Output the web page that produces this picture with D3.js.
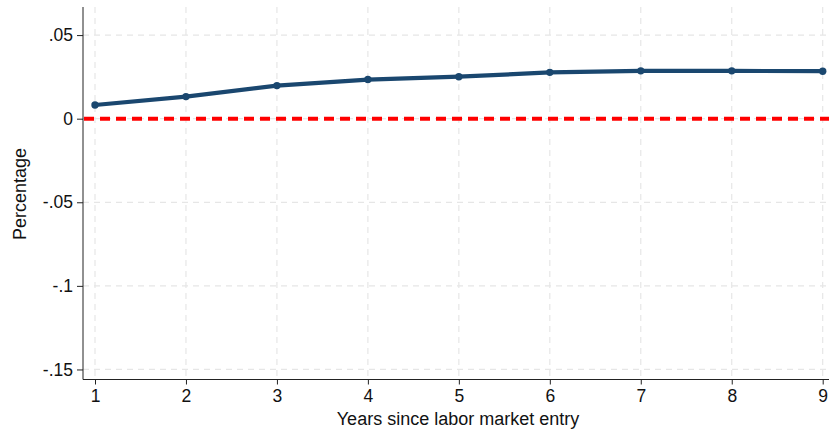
<!DOCTYPE html>
<html>
<head>
<meta charset="utf-8">
<script src="https://cdn.jsdelivr.net/npm/d3@7"></script>
<style>
  body { margin: 0; background: #fff; }
  svg { display: block; font-family: "Liberation Sans", Arial, sans-serif; }
</style>
</head>
<body>
<svg id="chart" width="829" height="431"></svg>
<script>
// Years since entry and estimated effect
const years = [1, 2, 3, 4, 5, 6, 7, 8, 9];
const effect = [0.0082, 0.0132, 0.0198, 0.0234, 0.0251, 0.0277, 0.0286, 0.0286, 0.0284];
const yTicks = [-0.15, -0.1, -0.05, 0, 0.05];
const yTickLabels = ["-.15", "-.1", "-.05", "0", ".05"];

const svg = d3.select("#chart");
const plotLeft = 83, plotRight = 829, plotTop = 7, plotBottom = 379.5;

const x = d3.scaleLinear().domain([1, 9]).range([95, 822.7]);
const y = d3.scaleLinear().domain([-0.156, 0.0668]).range([plotBottom, plotTop]);

// Grid
svg.append("g").selectAll("line").data(yTicks).join("line")
  .attr("x1", plotLeft).attr("x2", plotRight)
  .attr("y1", d => y(d)).attr("y2", d => y(d))
  .attr("stroke", "#e6e6e6").attr("stroke-width", 1.2)
  .attr("stroke-dasharray", "6,5");
svg.append("g").selectAll("line").data(years).join("line")
  .attr("x1", d => x(d)).attr("x2", d => x(d))
  .attr("y1", plotTop).attr("y2", plotBottom)
  .attr("stroke", "#e6e6e6").attr("stroke-width", 1.2)
  .attr("stroke-dasharray", "6,5");

// Axes
const yAxis = d3.axisLeft(y).tickValues(yTicks)
  .tickFormat((d, i) => yTickLabels[i]).tickSize(6).tickPadding(4);
const gy = svg.append("g").attr("transform", `translate(${plotLeft},0)`).call(yAxis);
gy.select(".domain").attr("d", `M0,${plotTop}V${plotBottom}`).attr("stroke", "#222");
gy.selectAll(".tick line").attr("stroke", "#222");
gy.selectAll("text").attr("font-size", 17.5).attr("fill", "#111")
  .attr("font-family", "Liberation Sans, Arial, sans-serif");

const xAxis = d3.axisBottom(x).tickValues(years).tickFormat(d3.format("d"))
  .tickSize(5).tickPadding(5);
const gx = svg.append("g").attr("transform", `translate(0,${plotBottom})`).call(xAxis);
gx.select(".domain").attr("d", `M${plotLeft},0H${plotRight}`).attr("stroke", "#222");
gx.selectAll(".tick line").attr("stroke", "#222");
gx.selectAll("text").attr("font-size", 17.5).attr("fill", "#111")
  .attr("font-family", "Liberation Sans, Arial, sans-serif");

// Reference line at zero
svg.append("line")
  .attr("x1", plotLeft + 1).attr("x2", plotRight)
  .attr("y1", y(0)).attr("y2", y(0))
  .attr("stroke", "#ff0000").attr("stroke-width", 4)
  .attr("stroke-dasharray", "10,6");

// Effect line
const line = d3.line().x((d, i) => x(years[i])).y(d => y(d));
svg.append("path").datum(effect)
  .attr("d", line).attr("fill", "none")
  .attr("stroke", "#1a476f").attr("stroke-width", 4.2)
  .attr("stroke-linejoin", "round");
svg.append("g").selectAll("circle").data(effect).join("circle")
  .attr("cx", (d, i) => x(years[i])).attr("cy", d => y(d)).attr("r", 3.7)
  .attr("fill", "#1a476f");

// Titles
svg.append("text")
  .attr("transform", "translate(26,194) rotate(-90)")
  .attr("text-anchor", "middle").attr("font-size", 18).attr("fill", "#111")
  .text("Percentage");
svg.append("text")
  .attr("x", (plotLeft + plotRight) / 2 + 2).attr("y", 425)
  .attr("text-anchor", "middle").attr("font-size", 18).attr("fill", "#111")
  .text("Years since labor market entry");
</script>
</body>
</html>
